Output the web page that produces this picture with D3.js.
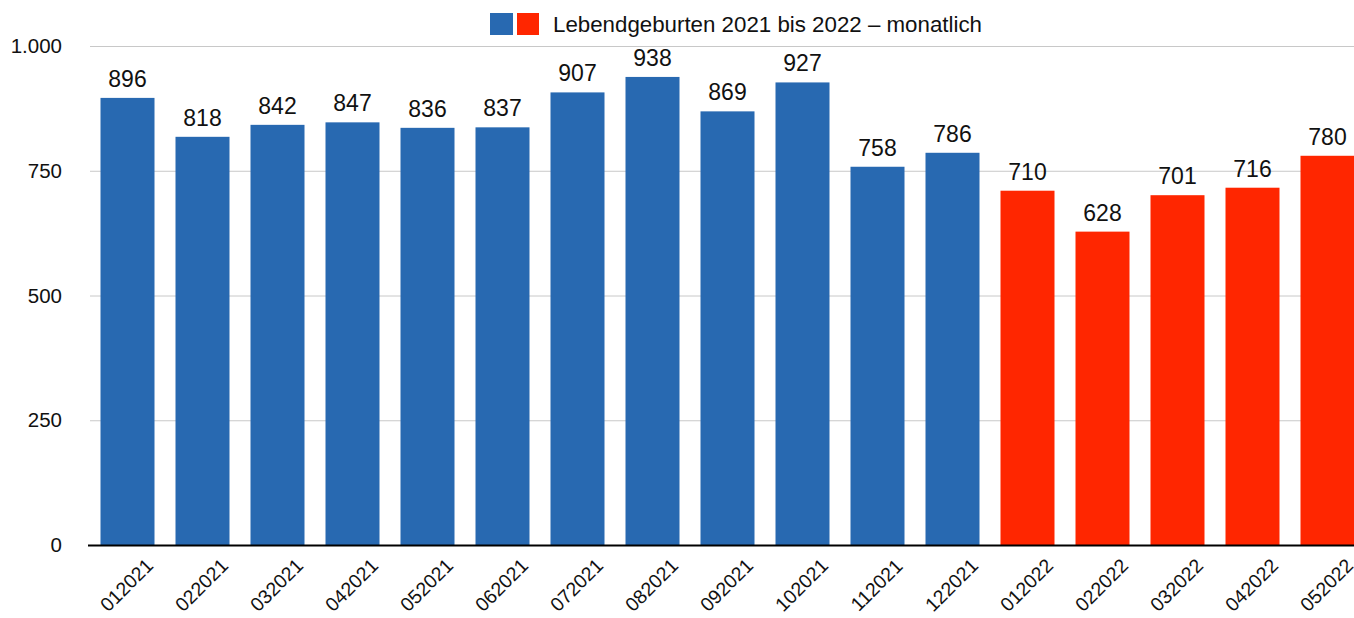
<!DOCTYPE html>
<html>
<head>
<meta charset="utf-8">
<script src="https://cdn.jsdelivr.net/npm/d3@7"></script>
<style>
  body { margin: 0; background: #fff; }
  text { font-family: "Liberation Sans", Arial, sans-serif; fill: #111; }
</style>
</head>
<body>
<div id="chart"></div>
<script>
// Daten
var months = ["012021", "022021", "032021", "042021", "052021", "062021", "072021", "082021", "092021", "102021", "112021", "122021",
  "012022", "022022", "032022", "042022", "052022"];
var births = [896, 818, 842, 847, 836, 837, 907, 938, 869, 927, 758, 786, 710, 628, 701, 716, 780];
var years = ["2021", "2021", "2021", "2021", "2021", "2021", "2021", "2021", "2021", "2021", "2021", "2021",
  "2022", "2022", "2022", "2022", "2022"];
var yTicks = [0, 250, 500, 750, 1000];
var legendText = "Lebendgeburten 2021 bis 2022 – monatlich";

var width = 1354, height = 618;
var blue = "#2869b1", red = "#ff2600";

var svg = d3.select("#chart").append("svg")
  .attr("width", width)
  .attr("height", height);

var x = d3.scaleBand()
  .domain(months)
  .range([90, 1365])
  .paddingInner(0.28)
  .paddingOuter(0.14);

var y = d3.scaleLinear()
  .domain([0, 1000])
  .range([545, 46]);

var color = d3.scaleOrdinal().domain(["2021", "2022"]).range([blue, red]);

// Gitterlinien
svg.append("g").selectAll("line")
  .data(yTicks.filter(function(d) { return d > 0; }))
  .enter().append("line")
  .attr("x1", 90)
  .attr("x2", width)
  .attr("y1", function(d) { return y(d) + 0.5; })
  .attr("y2", function(d) { return y(d) + 0.5; })
  .attr("stroke", "#c8c8c8")
  .attr("stroke-width", 1);

// y-Achse Beschriftung
svg.append("g").selectAll("text")
  .data(yTicks)
  .enter().append("text")
  .attr("x", 62)
  .attr("y", function(d) { return y(d); })
  .attr("dy", "0.35em")
  .attr("text-anchor", "end")
  .style("font-size", "20.5px")
  .text(function(d) { return d3.format(",")(d).replace(/,/g, "."); });

// Balken
svg.append("g").selectAll("rect")
  .data(births)
  .enter().append("rect")
  .attr("x", function(d, i) { return x(months[i]); })
  .attr("width", x.bandwidth())
  .attr("y", function(d) { return y(d); })
  .attr("height", function(d) { return y(0) - y(d); })
  .attr("fill", function(d, i) { return color(years[i]); });

// Werte
svg.append("g").selectAll("text")
  .data(births)
  .enter().append("text")
  .attr("x", function(d, i) { return x(months[i]) + x.bandwidth() / 2; })
  .attr("y", function(d) { return y(d) - 11; })
  .attr("text-anchor", "middle")
  .style("font-size", "23px")
  .text(function(d) { return d; });

// Nulllinie
svg.append("line")
  .attr("x1", 88)
  .attr("x2", width)
  .attr("y1", y(0) + 0.5)
  .attr("y2", y(0) + 0.5)
  .attr("stroke", "#000")
  .attr("stroke-width", 2);

// x-Achse Beschriftung (schräg)
svg.append("g").selectAll("text")
  .data(months)
  .enter().append("text")
  .attr("transform", function(d) {
    return "translate(" + (x(d) + x.bandwidth() / 2 - 1) + ",585) rotate(-45)";
  })
  .attr("text-anchor", "middle")
  .attr("dy", "0.35em")
  .style("font-size", "19.5px")
  .text(function(d) { return d; });

// Legende
var legend = svg.append("g");
legend.append("rect").attr("x", 490).attr("y", 13).attr("width", 23).attr("height", 22).attr("fill", blue);
legend.append("rect").attr("x", 517).attr("y", 13).attr("width", 22).attr("height", 22).attr("fill", red);
legend.append("text")
  .attr("x", 553)
  .attr("y", 32)
  .style("font-size", "22.3px")
  .text(legendText);
</script>
</body>
</html>
